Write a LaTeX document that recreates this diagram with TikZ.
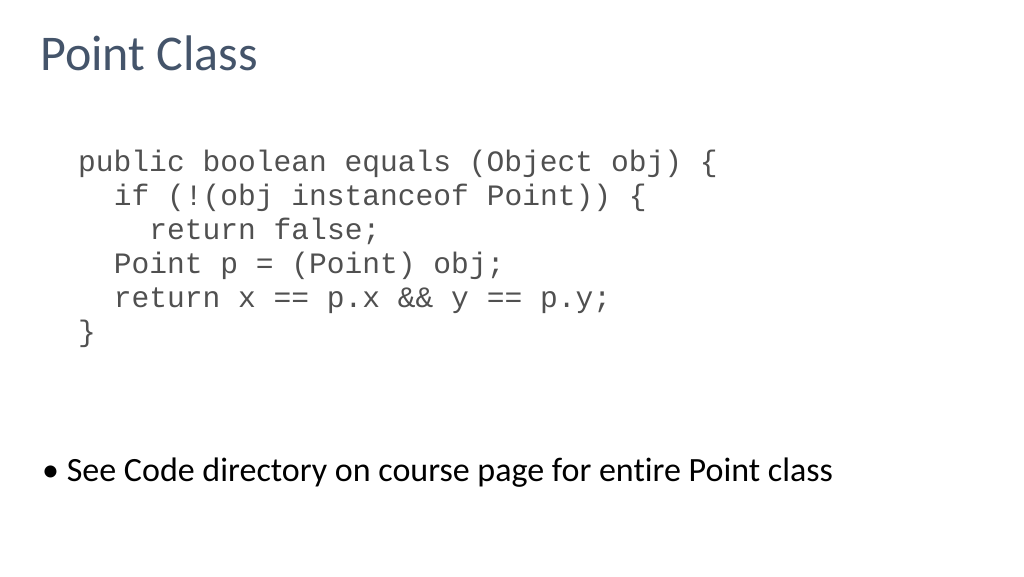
\documentclass[tikz,border=0pt]{standalone}
\usepackage{fontspec}
\setmainfont[Ligatures=NoCommon]{Carlito}
\newfontfamily\codefont{Liberation Mono}
\usetikzlibrary{positioning}
\definecolor{titleColor}{RGB}{68,84,106}
\definecolor{codeColor}{RGB}{80,80,80}
\tikzstyle{slide} = [x = 1pt, y = -1pt]
\tikzstyle{titleText} = [anchor=base west, inner sep=0pt, font=\fontsize{50}{60}\selectfont, text=titleColor]
\tikzstyle{codeLine} = [anchor=base west, inner sep=0pt, font=\codefont\fontsize{29.6}{34}\selectfont, text=codeColor]
\tikzstyle{bulletText} = [anchor=base west, inner sep=0pt, font=\fontsize{34}{40}\selectfont, text=black]
\begin{document}
\begin{tikzpicture}[slide]
        \useasboundingbox (0,0) rectangle (1024,576);
        \node [titleText] (title) at (40,70) {Point Class};
        \foreach \indent/\row/\txt in {0/0/{public boolean equals (Object obj) \{},
            1/1/{if (!(obj instanceof Point)) \{},
            2/2/{return false;},
            1/3/{Point p = (Point) obj;},
            1/4/{return x == p.x \&\& y == p.y;},
            0/5/{\}}} {
          \node [codeLine] (code\row) at (78 + 35.6 * \indent, 171 + 34 * \row) {\txt};
        }
        \node [bulletText] (bullet) at (42,481) {\textbullet\ See Code directory on course page for entire Point class};
      \end{tikzpicture}
\end{document}
